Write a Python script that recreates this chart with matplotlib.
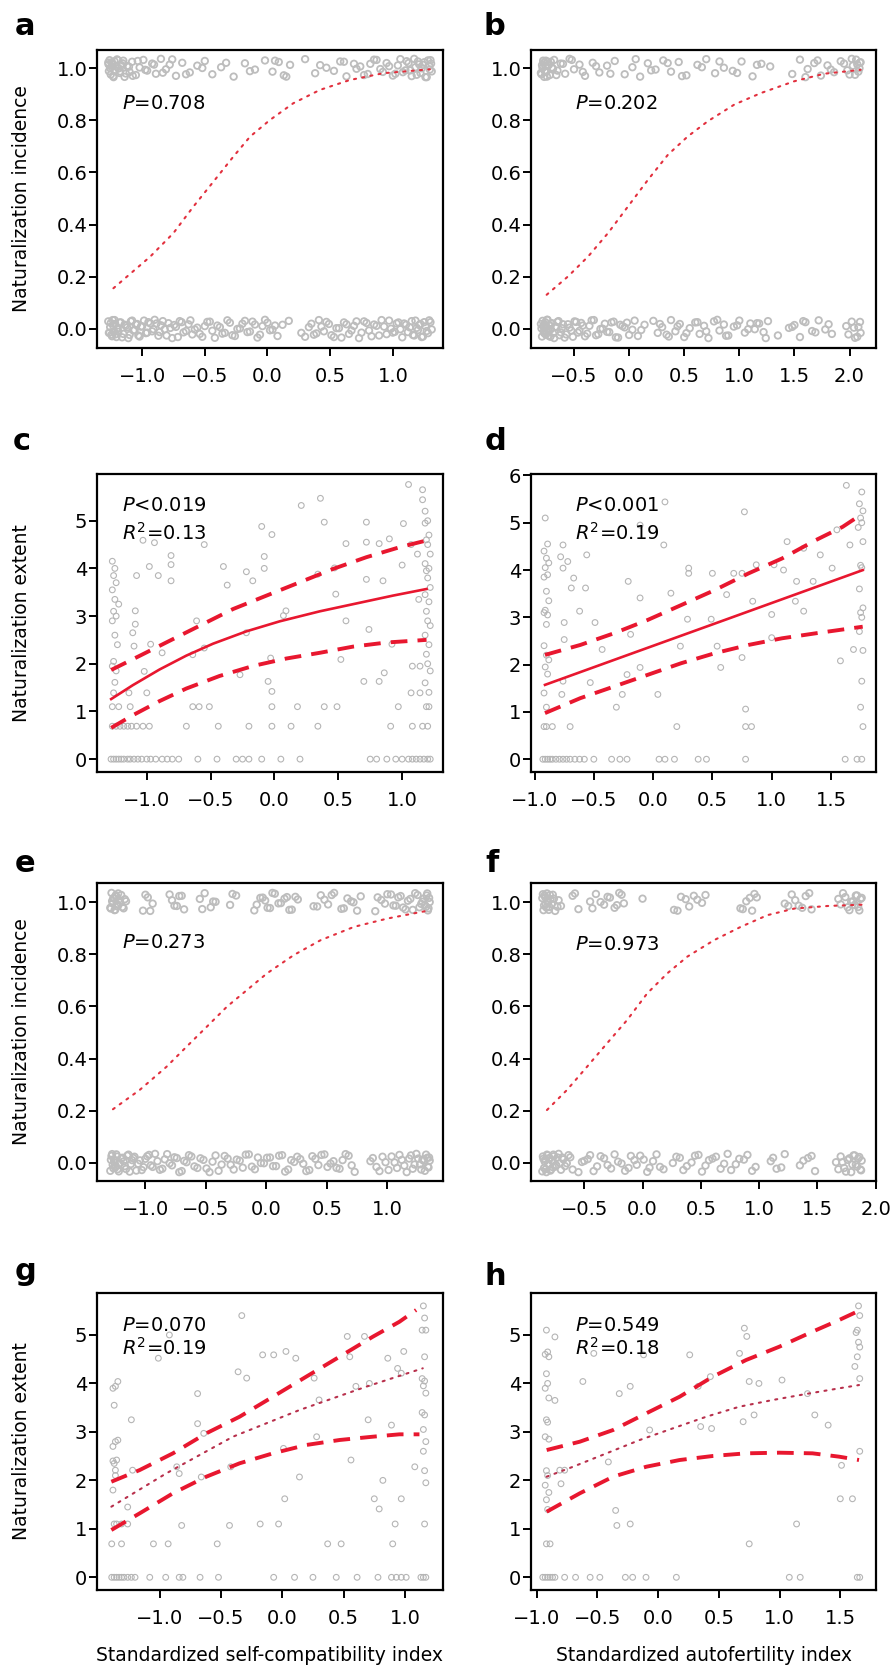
import numpy as np
import matplotlib
matplotlib.use("Agg")
import matplotlib.pyplot as plt

plt.rcParams['font.family'] = ['DejaVu Sans']
plt.rcParams['mathtext.fontset'] = 'dejavusans'

def arr(s):
    return np.array(s.split(), dtype=float)

# ---------------- typed vertical jitter for the 0/1 incidence bands ----------------
JITTER = arr("""0.021 -0.012 0.030 -0.025 0.004 0.015 -0.031 0.026 -0.008 0.033 -0.002 -0.019 0.011 0.028
-0.034 0.007 -0.015 0.024 -0.027 0.002 0.031 -0.010 0.017 -0.022 0.035 -0.005 0.013 -0.030 0.020 -0.017
0.009 0.027 -0.024 0.003 -0.033 0.018 -0.006 0.029 -0.014 0.023 -0.028 0.012 0.034 -0.020 0.001 -0.011
0.025 -0.032 0.016 0.006 -0.023 0.032 -0.004 0.019 -0.029 0.010 -0.016 0.026 -0.009 0.035 -0.026 0.014
-0.001 0.022 -0.035 0.008 0.030 -0.013 0.018 -0.021 0.005 -0.030 0.027 -0.007 0.013 -0.018 0.033 -0.024
0.000 0.020 -0.012 0.028 -0.033 0.011 0.024 -0.003 -0.027 0.016 0.031 -0.015 0.007 -0.022 0.034 -0.009
0.019 -0.031 0.003 0.025 -0.019 0.012 -0.035 0.029 -0.006 0.017 -0.025 0.009 0.032 -0.014 0.021 -0.001""")

# ---------------- panel a ----------------
a_top_x = arr("""-1.27 -1.265 -1.26 -1.25 -1.245 -1.24 -1.23 -1.22 -1.215 -1.20 -1.19 -1.18 -1.165 -1.15 -1.14
-1.12 -1.10 -1.08 -1.05 -1.02 -0.99 -0.96 -0.92 -0.89 -0.85 -0.81 -0.78 -0.73 -0.68 -0.62 -0.56 -0.50 -0.44
-0.37 -0.27 -0.18 -0.10 -0.02 0.04 0.09 0.13 0.18 0.30 0.38 0.47 0.53 0.58 0.63 0.69 0.74 0.80 0.85 0.90
0.95 1.00 1.04 1.08 1.11 1.14 1.17 1.19 1.21 1.23 1.25 1.27 1.29 1.30 1.31""")
a_top_x2 = arr("""-1.268 -1.255 -1.242 -1.228 -1.212 -1.195 -1.175 -1.155 -1.13 -1.105 -1.075 -1.035 -0.975 -0.905
-0.835 -0.76 -0.65 -0.52 -0.33 -0.14 0.06 0.15 0.42 0.61 0.71 0.77 0.82 0.87 0.92 0.97 1.02 1.06 1.10 1.125
1.15 1.18 1.20 1.22 1.24 1.26 1.28 1.295 1.305""")
a_bot_x = arr("""-1.27 -1.26 -1.25 -1.24 -1.23 -1.22 -1.21 -1.20 -1.19 -1.18 -1.16 -1.14 -1.12 -1.10 -1.08 -1.06
-1.04 -1.02 -1.00 -0.97 -0.95 -0.92 -0.90 -0.87 -0.85 -0.82 -0.79 -0.76 -0.73 -0.70 -0.67 -0.63 -0.60 -0.56
-0.52 -0.48 -0.44 -0.40 -0.36 -0.32 -0.28 -0.24 -0.20 -0.16 -0.12 -0.08 -0.04 0.00 0.04 0.08 0.12 0.17 0.27
0.33 0.37 0.41 0.45 0.49 0.53 0.57 0.61 0.65 0.69 0.73 0.77 0.81 0.85 0.89 0.93 0.97 1.00 1.03 1.06 1.09
1.12 1.15 1.17 1.19 1.21 1.23 1.25 1.27 1.29 1.31""")
a_bot_x2 = arr("""-1.265 -1.255 -1.245 -1.235 -1.225 -1.215 -1.205 -1.195 -1.17 -1.15 -1.13 -1.11 -1.09 -1.07 -1.05
-1.03 -1.01 -0.985 -0.96 -0.935 -0.91 -0.885 -0.86 -0.835 -0.805 -0.775 -0.745 -0.715 -0.685 -0.65 -0.615
-0.58 -0.54 -0.50 -0.46 -0.42 -0.38 -0.34 -0.30 -0.26 -0.22 -0.18 -0.14 -0.10 -0.06 -0.02 0.02 0.06 0.30
0.35 0.39 0.43 0.47 0.51 0.55 0.59 0.63 0.67 0.71 0.75 0.79 0.83 0.87 0.91 0.95 0.985 1.015 1.045 1.075
1.105 1.135 1.16 1.18 1.20 1.22 1.24 1.26 1.28 1.30""")
a_curve_x = [-1.229, -0.936, -0.751, -0.591, -0.432, -0.273, -0.139, 0.020, 0.206, 0.418, 0.657, 0.923, 1.295]
a_curve_y = [0.156, 0.277, 0.367, 0.469, 0.564, 0.660, 0.737, 0.801, 0.865, 0.916, 0.954, 0.980, 0.995]

# ---------------- panel b ----------------
b_top_x = arr("""-0.80 -0.79 -0.78 -0.77 -0.76 -0.75 -0.74 -0.72 -0.70 -0.68 -0.65 -0.62 -0.58 -0.54 -0.50 -0.45
-0.40 -0.33 -0.27 -0.20 -0.13 -0.04 0.03 0.10 0.17 0.24 0.31 0.38 0.45 0.52 0.62 0.70 0.78 0.86 0.94 1.02
1.12 1.20 1.28 1.48 1.55 1.62 1.68 1.74 1.80 1.86 1.92 1.98 2.02 2.05 2.07 2.09 2.10""")
b_top_x2 = arr("""-0.795 -0.785 -0.775 -0.765 -0.755 -0.745 -0.73 -0.71 -0.69 -0.66 -0.60 -0.52 -0.42 -0.30 -0.17
0.06 0.20 0.35 0.48 0.66 0.82 0.98 1.16 1.60 1.71 1.83 1.95 2.00 2.03 2.06 2.08 2.095""")
b_bot_x = arr("""-0.80 -0.79 -0.78 -0.77 -0.76 -0.75 -0.74 -0.73 -0.72 -0.71 -0.70 -0.68 -0.66 -0.64 -0.62 -0.60
-0.57 -0.54 -0.51 -0.48 -0.45 -0.42 -0.38 -0.34 -0.30 -0.26 -0.22 -0.18 -0.14 -0.10 -0.06 -0.02 0.03 0.08
0.14 0.22 0.26 0.30 0.34 0.38 0.42 0.46 0.50 0.55 0.60 0.64 0.68 0.72 0.77 0.82 0.86 0.90 0.95 1.00 1.05
1.10 1.14 1.18 1.22 1.26 1.35 1.45 1.50 1.55 1.60 1.66 1.72 1.78 1.84 1.97 2.02 2.05 2.08 2.10""")
b_bot_x2 = arr("""-0.795 -0.785 -0.775 -0.765 -0.755 -0.745 -0.735 -0.725 -0.715 -0.705 -0.69 -0.67 -0.65 -0.63
-0.61 -0.585 -0.555 -0.525 -0.495 -0.465 -0.435 -0.40 -0.36 -0.32 -0.28 -0.24 -0.20 -0.16 -0.12 -0.08 -0.04
0.00 0.05 0.11 0.28 0.36 0.44 0.52 0.62 0.70 0.80 0.88 0.98 1.08 1.16 1.24 1.48 1.58 1.69 1.81 1.99 2.04
2.07 2.095""")
b_curve_x = [-0.748, -0.552, -0.371, -0.190, -0.009, 0.172, 0.353, 0.533, 0.714, 0.955, 1.196, 1.497, 1.769, 2.100]
b_curve_y = [0.131, 0.202, 0.278, 0.368, 0.470, 0.572, 0.668, 0.738, 0.796, 0.860, 0.904, 0.949, 0.978, 0.993]

# ---------------- panel c ----------------
c_pts = [(-1.27, 4.15), (-1.25, 4.0), (-1.26, 3.85), (-1.24, 3.7), (-1.27, 3.55), (-1.25, 3.35), (-1.22, 3.25),
         (-1.26, 3.1), (-1.24, 3.0), (-1.27, 2.9), (-1.25, 2.6), (-1.23, 2.4), (-1.26, 2.05), (-1.27, 1.95),
         (-1.24, 1.85), (-1.25, 1.61), (-1.26, 1.39), (-1.22, 1.1), (-1.27, 1.1),
         (-1.03, 4.59), (-0.94, 4.54), (-0.81, 4.27), (-0.81, 4.08), (-0.81, 3.74), (-0.98, 4.04), (-0.91, 3.85),
         (-1.08, 3.85), (-1.09, 3.11), (-1.09, 2.83), (-1.11, 2.65), (-1.10, 2.37), (-0.97, 2.41), (-0.88, 2.23),
         (-1.02, 1.84), (-1.0, 1.39), (-1.14, 1.39), (-1.13, 1.1), (-0.61, 2.9), (-0.55, 2.33), (-0.64, 2.19),
         (-0.40, 4.04), (-0.37, 3.65), (-0.22, 3.93), (-0.17, 3.74), (-0.08, 4.25), (-0.08, 4.0), (-0.10, 4.88),
         (-0.02, 4.71), (0.21, 5.32), (0.36, 5.47), (0.39, 4.97), (-0.22, 2.65), (-0.27, 1.77), (-0.03, 2.12),
         (-0.05, 1.63), (-0.02, 1.42), (0.07, 3.01), (0.09, 3.11), (0.34, 3.88), (0.47, 4.01), (0.56, 4.52),
         (0.48, 3.46), (0.56, 2.90), (0.72, 4.97), (0.72, 4.55), (0.82, 4.52), (0.90, 4.62), (1.01, 4.94),
         (0.72, 3.77), (0.85, 3.74), (0.74, 2.72), (0.92, 2.41), (0.52, 2.09), (0.70, 1.63), (0.82, 1.63),
         (0.86, 1.81), (1.05, 5.76), (1.16, 5.65), (1.16, 5.44), (1.18, 5.2), (1.07, 1.39), (1.14, 1.39),
         (1.0, 4.07), (1.12, 4.3), (1.07, 4.5), (1.13, 3.35), (1.08, 1.95), (1.14, 1.95), (-0.55, 4.5),
         (1.20, 5.0), (1.18, 4.95), (1.21, 4.7), (1.19, 4.6), (1.20, 4.5), (1.22, 4.3), (1.18, 4.1), (1.21, 4.0),
         (1.19, 3.95), (1.20, 3.8), (1.22, 3.6), (1.18, 3.45), (1.21, 3.3), (1.19, 3.1), (1.20, 2.9), (1.22, 2.8),
         (1.18, 2.6), (1.21, 2.4), (1.19, 2.2), (1.20, 2.0), (1.22, 1.85), (1.18, 1.6), (1.21, 1.4), (1.19, 1.1),
         (1.21, 1.1), (-0.64, 1.1), (-0.59, 1.1), (-0.51, 1.1), (-0.02, 1.1), (0.18, 1.1), (0.39, 1.1),
         (0.49, 1.1), (0.97, 1.1)]
c_row069_x = [-1.27, -1.24, -1.21, -1.18, -1.15, -1.12, -1.08, -1.03, -0.98, -0.69, -0.44, -0.20, -0.02, 0.13,
              0.34, 0.91, 1.08, 1.16, 1.20]
c_row0_x = [-1.28, -1.26, -1.24, -1.22, -1.2, -1.18, -1.15, -1.13, -1.1, -1.07, -1.04, -1.0, -0.97, -0.93, -0.88,
            -0.84, -0.8, -0.75, -0.6, -0.45, -0.3, -0.25, -0.2, -0.1, 0.05, 0.2, 0.75, 0.8, 0.88, 0.95, 1.0, 1.05,
            1.08, 1.11, 1.14, 1.17, 1.2, 1.22]
c_fit_x = [-1.279, -1.110, -0.900, -0.691, -0.482, -0.220, 0.041, 0.355, 0.668, 0.929, 1.191]
c_fit_y = [1.260, 1.550, 1.880, 2.170, 2.420, 2.680, 2.890, 3.100, 3.280, 3.430, 3.568]
c_up_x = [-1.279, -1.057, -0.848, -0.587, -0.325, -0.064, 0.198, 0.459, 0.720, 0.982, 1.191]
c_up_y = [1.870, 2.165, 2.446, 2.796, 3.147, 3.428, 3.709, 3.989, 4.235, 4.446, 4.586]
c_lo_x = [-1.279, -1.110, -0.900, -0.691, -0.430, -0.168, 0.093, 0.355, 0.616, 0.878, 1.191]
c_lo_y = [0.656, 0.920, 1.217, 1.480, 1.744, 1.954, 2.110, 2.230, 2.360, 2.446, 2.501]

# ---------------- panel d ----------------
d_pts = [(-0.91, 5.1), (-0.89, 4.55), (-0.92, 4.4), (-0.9, 4.25), (-0.88, 4.15), (-0.91, 4.05), (-0.89, 3.9),
         (-0.92, 3.85), (-0.9, 3.55), (-0.88, 3.35), (-0.91, 3.15), (-0.92, 3.1), (-0.89, 3.05), (-0.9, 2.85),
         (-0.92, 2.4), (-0.9, 2.2), (-0.88, 2.1), (-0.91, 1.95), (-0.89, 1.8), (-0.92, 1.4), (-0.9, 1.1),
         (-0.76, 4.53), (-0.78, 4.28), (-0.72, 4.18), (-0.76, 4.04), (-0.67, 3.83), (-0.69, 3.62), (-0.57, 3.62),
         (-0.56, 4.32), (-0.62, 3.13), (-0.75, 2.89), (-0.49, 2.89), (-0.75, 2.53), (-0.43, 2.32), (-0.76, 1.65),
         (-0.53, 1.62), (-0.77, 1.37), (-0.26, 1.37), (-0.31, 1.10), (-0.22, 1.79), (-0.11, 1.94), (-0.19, 2.64),
         (-0.21, 3.76), (-0.11, 3.41), (0.04, 1.37), (0.15, 3.51), (-0.11, 4.95), (0.09, 4.53), (0.10, 5.44),
         (0.23, 2.39), (0.29, 2.96), (0.30, 4.04), (0.30, 3.93), (0.50, 3.93), (0.49, 2.96), (0.54, 2.39),
         (0.57, 1.94), (0.62, 3.48), (0.68, 3.93), (0.75, 3.93), (0.75, 2.15), (0.77, 5.23), (0.84, 3.34),
         (0.78, 1.06), (0.87, 4.11), (1.0, 3.06), (1.0, 2.57), (1.02, 4.11), (1.10, 4.0), (1.13, 4.60),
         (1.20, 3.34), (1.21, 3.76), (1.27, 3.13), (1.27, 4.46), (1.35, 3.76), (1.41, 4.32), (1.51, 4.04),
         (1.55, 4.85), (1.58, 2.08), (1.63, 5.79), (1.66, 4.53), (1.69, 2.32),
         (1.76, 5.65), (1.74, 5.4), (1.77, 5.25), (1.75, 5.1), (1.76, 5.0), (1.73, 4.9), (1.77, 4.6), (1.75, 4.1),
         (1.76, 4.05), (1.74, 3.6), (1.77, 3.2), (1.75, 3.1), (1.76, 3.0), (1.74, 2.7), (1.77, 2.3), (1.76, 1.65),
         (1.75, 1.1)]
d_row069_x = [-0.92, -0.9, -0.85, -0.7, 0.2, 0.78, 0.83, 1.77]
d_row0_x = [-0.93, -0.91, -0.89, -0.87, -0.85, -0.82, -0.79, -0.76, -0.73, -0.7, -0.66, -0.62, -0.58, -0.5, -0.35,
            -0.28, -0.22, 0.05, 0.1, 0.18, 0.38, 0.45, 0.78, 1.62, 1.72, 1.76]
d_fit_x = [-0.912, -0.243, 0.464, 1.100, 1.768]
d_fit_y = [1.572, 2.178, 2.817, 3.393, 3.998]
d_up_x = [-0.912, -0.614, -0.331, -0.047, 0.237, 0.520, 0.804, 1.088, 1.371, 1.598, 1.768]
d_up_y = [2.205, 2.416, 2.662, 2.943, 3.259, 3.576, 3.928, 4.245, 4.631, 4.912, 5.194]
d_lo_x = [-0.912, -0.614, -0.331, -0.047, 0.237, 0.520, 0.804, 1.088, 1.371, 1.768]
d_lo_y = [0.975, 1.291, 1.536, 1.783, 2.030, 2.241, 2.416, 2.557, 2.662, 2.802]

# ---------------- panel e ----------------
e_top_x = arr("""-1.29 -1.28 -1.27 -1.26 -1.25 -1.24 -1.23 -1.22 -1.20 -1.18 -1.16 -1.02 -0.98 -0.94 -0.80 -0.76
-0.72 -0.68 -0.55 -0.51 -0.46 -0.42 -0.30 -0.25 -0.10 -0.05 -0.01 0.03 0.07 0.12 0.17 0.21 0.26 0.39 0.45
0.51 0.56 0.62 0.67 0.72 0.78 0.90 0.95 1.00 1.05 1.09 1.13 1.17 1.21 1.25 1.28 1.30 1.32 1.33 1.34 1.35""")
e_top_x2 = arr("""-1.285 -1.275 -1.265 -1.255 -1.245 -1.235 -1.225 -1.21 -1.19 -1.17 -1.00 -0.96 -0.78 -0.74 -0.70
-0.53 -0.44 -0.28 -0.08 -0.03 0.01 0.05 0.10 0.15 0.19 0.24 0.42 0.48 0.54 0.64 0.70 0.75 0.92 0.98 1.03
1.07 1.11 1.15 1.19 1.23 1.265 1.29 1.31 1.325 1.335 1.345""")
e_bot_x = arr("""-1.29 -1.28 -1.27 -1.26 -1.25 -1.24 -1.23 -1.21 -1.19 -1.17 -1.15 -1.13 -1.11 -1.09 -1.06 -1.03
-1.00 -0.97 -0.94 -0.90 -0.86 -0.82 -0.78 -0.74 -0.70 -0.66 -0.62 -0.57 -0.52 -0.47 -0.42 -0.37 -0.32 -0.27
-0.22 -0.17 -0.12 -0.07 -0.02 0.03 0.08 0.13 0.18 0.23 0.28 0.33 0.38 0.43 0.48 0.53 0.58 0.63 0.68 0.73
0.86 0.91 0.96 1.01 1.06 1.10 1.14 1.18 1.21 1.24 1.27 1.29 1.31 1.33 1.34 1.35""")
e_bot_x2 = arr("""-1.285 -1.275 -1.265 -1.255 -1.245 -1.235 -1.22 -1.20 -1.18 -1.16 -1.14 -1.12 -1.10 -1.075 -1.045
-1.015 -0.985 -0.955 -0.92 -0.88 -0.84 -0.80 -0.76 -0.72 -0.68 -0.64 -0.595 -0.545 -0.495 -0.445 -0.395
-0.345 -0.295 -0.245 -0.195 -0.145 -0.095 -0.045 0.005 0.055 0.105 0.155 0.205 0.255 0.305 0.355 0.405
0.455 0.505 0.555 0.605 0.655 0.705 0.88 0.935 0.985 1.035 1.08 1.12 1.16 1.195 1.225 1.255 1.28 1.30
1.32 1.335 1.345""")
e_curve_x = [-1.268, -1.047, -0.825, -0.659, -0.493, -0.326, -0.160, 0.006, 0.227, 0.449, 0.725, 1.002, 1.335]
e_curve_y = [0.206, 0.280, 0.369, 0.446, 0.522, 0.599, 0.663, 0.727, 0.797, 0.854, 0.905, 0.937, 0.967]

# ---------------- panel f ----------------
f_top_x = arr("""-0.86 -0.85 -0.84 -0.83 -0.82 -0.81 -0.80 -0.79 -0.77 -0.75 -0.72 -0.70 -0.60 -0.55 -0.45 -0.40
-0.33 -0.28 -0.24 -0.20 -0.16 0.00 0.27 0.33 0.40 0.47 0.54 0.84 0.89 0.94 0.98 1.22 1.28 1.34 1.40 1.45
1.68 1.72 1.76 1.79 1.82 1.84 1.86 1.88""")
f_top_x2 = arr("""-0.855 -0.845 -0.835 -0.825 -0.815 -0.805 -0.795 -0.78 -0.76 -0.73 -0.58 -0.43 -0.36 -0.30 -0.22
-0.18 0.30 0.37 0.44 0.51 0.86 0.92 0.96 1.25 1.31 1.37 1.43 1.70 1.74 1.775 1.805 1.83 1.85 1.87""")
f_bot_x = arr("""-0.86 -0.85 -0.84 -0.83 -0.82 -0.81 -0.80 -0.79 -0.78 -0.77 -0.76 -0.74 -0.72 -0.70 -0.68 -0.65
-0.62 -0.55 -0.50 -0.45 -0.39 -0.33 -0.27 -0.21 -0.15 -0.10 -0.05 0.01 0.06 0.12 0.18 0.26 0.32 0.38 0.45
0.51 0.57 0.63 0.70 0.76 0.83 0.90 0.97 1.10 1.15 1.22 1.35 1.42 1.48 1.66 1.70 1.73 1.76 1.79 1.81 1.83
1.85 1.87 1.88""")
f_bot_x2 = arr("""-0.855 -0.845 -0.835 -0.825 -0.815 -0.805 -0.795 -0.785 -0.775 -0.765 -0.75 -0.73 -0.71 -0.69
-0.665 -0.635 -0.60 -0.52 -0.47 -0.42 -0.36 -0.30 -0.24 -0.18 -0.12 -0.07 -0.02 0.04 0.09 0.15 0.29 0.35
0.42 0.48 0.54 0.60 0.67 0.73 0.80 0.87 0.94 1.12 1.19 1.38 1.45 1.68 1.715 1.745 1.775 1.80 1.82 1.84
1.86 1.875""")
f_curve_x = [-0.820, -0.648, -0.476, -0.304, -0.132, 0.040, 0.213, 0.385, 0.614, 0.843, 1.073, 1.302, 1.590, 1.891]
f_curve_y = [0.203, 0.280, 0.369, 0.459, 0.548, 0.650, 0.727, 0.791, 0.854, 0.905, 0.950, 0.975, 0.985, 0.990]

# ---------------- panel g ----------------
g_pts = [(-1.38, 3.9), (-1.37, 3.55), (-1.38, 2.7), (-1.36, 2.8), (-1.38, 2.4), (-1.37, 2.35), (-1.36, 2.1),
         (-1.38, 1.8), (-1.37, 1.1), (-1.35, 1.1), (-1.34, 4.04), (-1.36, 3.94), (-1.23, 3.25), (-1.34, 2.83),
         (-1.35, 2.42), (-1.36, 2.21), (-1.22, 2.21), (-1.26, 1.45), (-1.26, 1.10), (-1.31, 1.10), (-0.82, 1.07),
         (-0.92, 5.0), (-1.01, 4.52), (-0.86, 2.28), (-0.84, 2.14), (-0.69, 3.79), (-0.69, 3.17), (-0.64, 2.97),
         (-0.66, 2.07), (-0.42, 2.28), (-0.43, 1.07), (-0.36, 4.24), (-0.29, 4.11), (-0.33, 5.40), (-0.16, 4.59),
         (-0.07, 4.59), (0.03, 4.66), (0.11, 4.52), (-0.18, 1.10), (-0.03, 1.10), (0.01, 2.66), (0.02, 1.62),
         (0.14, 2.07), (0.26, 4.11), (0.30, 3.66), (0.28, 2.90), (0.53, 4.97), (0.55, 4.55), (0.56, 2.42),
         (0.60, 3.94), (0.67, 4.97), (0.71, 4.0), (0.70, 3.25), (0.75, 1.62), (0.82, 2.0), (0.79, 1.41),
         (0.86, 4.52), (0.89, 3.14), (0.92, 1.10), (0.94, 4.31), (0.97, 1.62), (0.99, 4.66), (0.97, 4.21),
         (1.08, 2.28), (1.15, 5.6), (1.16, 5.35), (1.14, 5.1), (1.17, 5.1), (1.16, 4.55), (1.14, 4.1),
         (1.16, 4.05), (1.15, 3.95), (1.17, 3.8), (1.14, 3.4), (1.16, 3.35), (1.15, 3.05), (1.17, 2.8),
         (1.15, 2.6), (1.16, 2.2), (1.17, 1.95), (1.16, 1.1)]
g_row069_x = [-1.39, -1.31, -1.05, -0.93, -0.53, 0.37, 0.48, 0.90]
g_row0_x = [-1.39, -1.37, -1.35, -1.33, -1.31, -1.29, -1.26, -1.23, -1.2, -1.08, -0.95, -0.84, -0.81, -0.67, -0.52,
            -0.07, 0.1, 0.25, 0.44, 0.61, 0.78, 0.89, 0.93, 0.97, 1.01, 1.13, 1.15, 1.17]
g_mid_x = [-1.393, -0.945, -0.402, 0.141, 0.684, 1.145]
g_mid_y = [1.457, 2.145, 2.901, 3.452, 3.933, 4.312]
g_up_x = [-1.393, -1.162, -0.891, -0.619, -0.348, -0.076, 0.195, 0.467, 0.738, 0.955, 1.091]
g_up_y = [1.972, 2.213, 2.558, 2.971, 3.313, 3.726, 4.139, 4.551, 4.964, 5.273, 5.515]
g_lo_x = [-1.393, -1.162, -0.891, -0.619, -0.348, -0.076, 0.195, 0.467, 0.738, 0.955, 1.118]
g_lo_y = [0.976, 1.320, 1.733, 2.076, 2.352, 2.558, 2.730, 2.833, 2.901, 2.950, 2.950]

# ---------------- panel h ----------------
h_pts = [(-0.92, 5.1), (-0.91, 4.65), (-0.93, 4.6), (-0.9, 4.55), (-0.92, 4.2), (-0.91, 4.0), (-0.93, 3.9),
         (-0.9, 3.7), (-0.92, 3.25), (-0.91, 3.2), (-0.93, 2.9), (-0.9, 2.85), (-0.92, 2.2), (-0.91, 2.1),
         (-0.93, 1.9), (-0.9, 1.75), (-0.92, 1.6), (-0.91, 1.4), (-0.85, 4.96), (-0.85, 3.65), (-0.77, 2.21),
         (-0.80, 1.93), (-0.81, 2.21), (-0.62, 4.04), (-0.53, 4.62), (-0.32, 3.79), (-0.23, 3.94), (-0.41, 2.38),
         (-0.35, 1.38), (-0.34, 1.07), (-0.23, 1.10), (-0.12, 4.59), (-0.07, 3.04), (0.26, 4.59), (0.33, 3.94),
         (0.35, 3.11), (0.44, 3.07), (0.43, 4.14), (0.67, 4.62), (0.71, 5.14), (0.73, 4.97), (0.70, 3.21),
         (0.75, 4.04), (0.83, 4.0), (0.79, 3.35), (1.02, 4.07), (1.14, 1.10), (1.23, 3.79), (1.29, 3.35),
         (1.40, 3.14), (1.50, 1.62), (1.51, 2.31), (1.60, 1.62), (1.65, 5.6), (1.66, 5.4), (1.64, 5.1),
         (1.63, 5.05), (1.65, 4.85), (1.66, 4.75), (1.64, 4.55), (1.62, 4.35), (1.66, 4.1), (1.66, 2.6)]
h_row069_x = [-0.92, -0.89, 0.75]
h_row0_x = [-0.95, -0.93, -0.91, -0.89, -0.87, -0.85, -0.77, -0.68, -0.56, -0.48, -0.27, -0.21, -0.1, 0.15,
            1.08, 1.17, 1.64, 1.66]
h_mid_x = [-0.918, -0.700, -0.425, -0.152, 0.122, 0.396, 0.669, 0.943, 1.217, 1.490, 1.654]
h_mid_y = [2.076, 2.282, 2.558, 2.833, 3.074, 3.313, 3.520, 3.658, 3.782, 3.899, 3.967]
h_up_x = [-0.918, -0.645, -0.371, -0.097, 0.177, 0.450, 0.724, 0.998, 1.271, 1.490, 1.654]
h_up_y = [2.626, 2.798, 3.039, 3.384, 3.726, 4.139, 4.483, 4.758, 5.068, 5.308, 5.500]
h_lo_x = h_up_x
h_lo_y = [1.353, 1.733, 2.076, 2.282, 2.420, 2.503, 2.558, 2.571, 2.558, 2.489, 2.420]

# ---------------- texts ----------------
labels = ['a', 'b', 'c', 'd', 'e', 'f', 'g', 'h']
stats = {'a': ["$P$=0.708"], 'b': ["$P$=0.202"],
         'c': ["$P$<0.019", "$R^2$=0.13"], 'd': ["$P$<0.001", "$R^2$=0.19"],
         'e': ["$P$=0.273"], 'f': ["$P$=0.973"],
         'g': ["$P$=0.070", "$R^2$=0.19"], 'h': ["$P$=0.549", "$R^2$=0.18"]}
ylab_inc = "Naturalization incidence"
ylab_ext = "Naturalization extent"
xlab_left = "Standardized self-compatibility index"
xlab_right = "Standardized autofertility index"

# ---------------- styling ----------------
W, H = 891, 1667
fig = plt.figure(figsize=(W / 100, H / 100), dpi=100)
GRAY = '#b5b5b5'
BAND_GRAY = '#bdbdbd'
RED = '#e8172f'
DOT_RED = '#e2303e'
DOT_DARK = '#b8304c'

cols = {0: (97, 443), 1: (531, 876)}
rows = {0: (50, 348), 1: (474, 772), 2: (883, 1181), 3: (1293, 1590)}

def make_ax(r, c):
    x0, x1 = cols[c]
    y0, y1 = rows[r]
    ax = fig.add_axes([x0 / W, 1 - y1 / H, (x1 - x0) / W, (y1 - y0) / H])
    for s in ax.spines.values():
        s.set_linewidth(1.6)
    ax.tick_params(direction='out', length=5.5, width=1.4, labelsize=14)
    ax.tick_params(axis='x', pad=8.5)
    ax.tick_params(axis='y', pad=1.5)
    return ax

def scat(ax, x, y):
    ax.scatter(x, y, s=17, facecolors='none', edgecolors=GRAY, linewidths=0.8, zorder=1)

def band(ax, xs, base, off):
    j = np.take(JITTER, np.arange(len(xs)) + off, mode='wrap')
    ax.scatter(xs, base + j, s=22, facecolors='none', edgecolors=BAND_GRAY, linewidths=1.3, zorder=1)

def stat_text(ax, key, xf, yfs):
    for t, yf in zip(stats[key], yfs):
        ax.text(xf, yf, t, transform=ax.transAxes, fontsize=14, va='center', ha='left')

def dashed(ax, x, y):
    ax.plot(x, y, color=RED, lw=2.8, dashes=(4.3, 2.6), solid_capstyle='butt', zorder=3)

def dotted(ax, x, y, color):
    ax.plot(x, y, color=color, lw=1.5, linestyle=(0, (1, 3.0)), dash_capstyle='round', zorder=3)

inc_yticks = [0.0, 0.2, 0.4, 0.6, 0.8, 1.0]
inc_yticklabels = ["0.0", "0.2", "0.4", "0.6", "0.8", "1.0"]
ticks_left = [-1.0, -0.5, 0.0, 0.5, 1.0]
ticks_b = [-0.5, 0.0, 0.5, 1.0, 1.5, 2.0]
ticks_d = [-1.0, -0.5, 0.0, 0.5, 1.0, 1.5]

def fmt(v):
    return ("%.1f" % v).replace('-', '\u2212')

YLAB_X = -0.19

# a
ax = make_ax(0, 0)
band(ax, a_top_x, 1.0, 0); band(ax, a_top_x2, 1.0, 61)
band(ax, a_bot_x, 0.0, 37); band(ax, a_bot_x2, 0.0, 89)
dotted(ax, a_curve_x, a_curve_y, DOT_RED)
ax.set_xlim(-1.36, 1.40); ax.set_ylim(-0.073, 1.069)
ax.set_xticks(ticks_left); ax.set_xticklabels([fmt(v) for v in ticks_left])
ax.set_yticks(inc_yticks); ax.set_yticklabels(inc_yticklabels)
ax.set_ylabel(ylab_inc, fontsize=13.5); ax.yaxis.set_label_coords(YLAB_X, 0.5)
stat_text(ax, 'a', 0.072, [0.822])

# b
ax = make_ax(0, 1)
band(ax, b_top_x, 1.0, 11); band(ax, b_top_x2, 1.0, 77)
band(ax, b_bot_x, 0.0, 53); band(ax, b_bot_x2, 0.0, 19)
dotted(ax, b_curve_x, b_curve_y, DOT_RED)
ax.set_xlim(-0.89, 2.24); ax.set_ylim(-0.073, 1.069)
ax.set_xticks(ticks_b); ax.set_xticklabels([fmt(v) for v in ticks_b])
ax.set_yticks(inc_yticks); ax.set_yticklabels(inc_yticklabels)
stat_text(ax, 'b', 0.128, [0.819])

def extent_panel(ax, pts, row069, row0, key, xf, yfs):
    px = [p[0] for p in pts]; py = [p[1] for p in pts]
    scat(ax, px, py)
    scat(ax, row069, [0.69] * len(row069))
    scat(ax, row0, [0.0] * len(row0))
    stat_text(ax, key, xf, yfs)

# c
ax = make_ax(1, 0)
extent_panel(ax, c_pts, c_row069_x, c_row0_x, 'c', 0.072, [0.895, 0.803])
ax.plot(c_fit_x, c_fit_y, color=RED, lw=1.9, zorder=3)
dashed(ax, c_up_x, c_up_y); dashed(ax, c_lo_x, c_lo_y)
ax.set_xlim(-1.39, 1.32); ax.set_ylim(-0.27, 5.98)
ax.set_xticks(ticks_left); ax.set_xticklabels([fmt(v) for v in ticks_left])
ax.set_yticks([0, 1, 2, 3, 4, 5])
ax.set_ylabel(ylab_ext, fontsize=13.5); ax.yaxis.set_label_coords(YLAB_X, 0.5)

# d
ax = make_ax(1, 1)
extent_panel(ax, d_pts, d_row069_x, d_row0_x, 'd', 0.128, [0.895, 0.803])
ax.plot(d_fit_x, d_fit_y, color=RED, lw=1.9, zorder=3)
dashed(ax, d_up_x, d_up_y); dashed(ax, d_lo_x, d_lo_y)
ax.set_xlim(-1.03, 1.88); ax.set_ylim(-0.27, 6.03)
ax.set_xticks(ticks_d); ax.set_xticklabels([fmt(v) for v in ticks_d])
ax.set_yticks([0, 1, 2, 3, 4, 5, 6])

# e
ax = make_ax(2, 0)
band(ax, e_top_x, 1.0, 23); band(ax, e_top_x2, 1.0, 3)
band(ax, e_bot_x, 0.0, 71); band(ax, e_bot_x2, 0.0, 41)
dotted(ax, e_curve_x, e_curve_y, DOT_RED)
ax.set_xlim(-1.40, 1.46); ax.set_ylim(-0.069, 1.073)
ax.set_xticks(ticks_left); ax.set_xticklabels([fmt(v) for v in ticks_left])
ax.set_yticks(inc_yticks); ax.set_yticklabels(inc_yticklabels)
ax.set_ylabel(ylab_inc, fontsize=13.5); ax.yaxis.set_label_coords(YLAB_X, 0.5)
stat_text(ax, 'e', 0.072, [0.799])

# f
ax = make_ax(2, 1)
band(ax, f_top_x, 1.0, 5); band(ax, f_top_x2, 1.0, 66)
band(ax, f_bot_x, 0.0, 47); band(ax, f_bot_x2, 0.0, 97)
dotted(ax, f_curve_x, f_curve_y, DOT_RED)
ax.set_xlim(-0.957, 2.003); ax.set_ylim(-0.069, 1.073)
ax.set_xticks(ticks_b); ax.set_xticklabels([fmt(v) for v in ticks_b])
ax.set_yticks(inc_yticks); ax.set_yticklabels(inc_yticklabels)
stat_text(ax, 'f', 0.128, [0.795])

# g
ax = make_ax(3, 0)
extent_panel(ax, g_pts, g_row069_x, g_row0_x, 'g', 0.072, [0.892, 0.815])
dotted(ax, g_mid_x, g_mid_y, DOT_DARK)
dashed(ax, g_up_x, g_up_y); dashed(ax, g_lo_x, g_lo_y)
ax.set_xlim(-1.51, 1.31); ax.set_ylim(-0.262, 5.866)
ax.set_xticks(ticks_left); ax.set_xticklabels([fmt(v) for v in ticks_left])
ax.set_yticks([0, 1, 2, 3, 4, 5])
ax.set_ylabel(ylab_ext, fontsize=13.5); ax.yaxis.set_label_coords(YLAB_X, 0.5)
ax.set_xlabel(xlab_left, fontsize=13.5); ax.xaxis.set_label_coords(0.5, -0.19)

# h
ax = make_ax(3, 1)
extent_panel(ax, h_pts, h_row069_x, h_row0_x, 'h', 0.128, [0.892, 0.815])
dotted(ax, h_mid_x, h_mid_y, DOT_DARK)
dashed(ax, h_up_x, h_up_y); dashed(ax, h_lo_x, h_lo_y)
ax.set_xlim(-1.047, 1.794); ax.set_ylim(-0.262, 5.866)
ax.set_xticks(ticks_d); ax.set_xticklabels([fmt(v) for v in ticks_d])
ax.set_yticks([0, 1, 2, 3, 4, 5])
ax.set_xlabel(xlab_right, fontsize=13.5); ax.xaxis.set_label_coords(0.5, -0.19)

# panel letters
letter_pos = {'a': (15, 35), 'b': (483, 35), 'c': (13, 450), 'd': (485, 450),
              'e': (15, 872), 'f': (485, 872), 'g': (15, 1280), 'h': (485, 1285)}
for k in labels:
    x, y = letter_pos[k]
    fig.text(x / W, 1 - y / H, k, fontsize=22, fontweight='bold', ha='left', va='baseline')

fig.savefig("out.png", dpi=100)
